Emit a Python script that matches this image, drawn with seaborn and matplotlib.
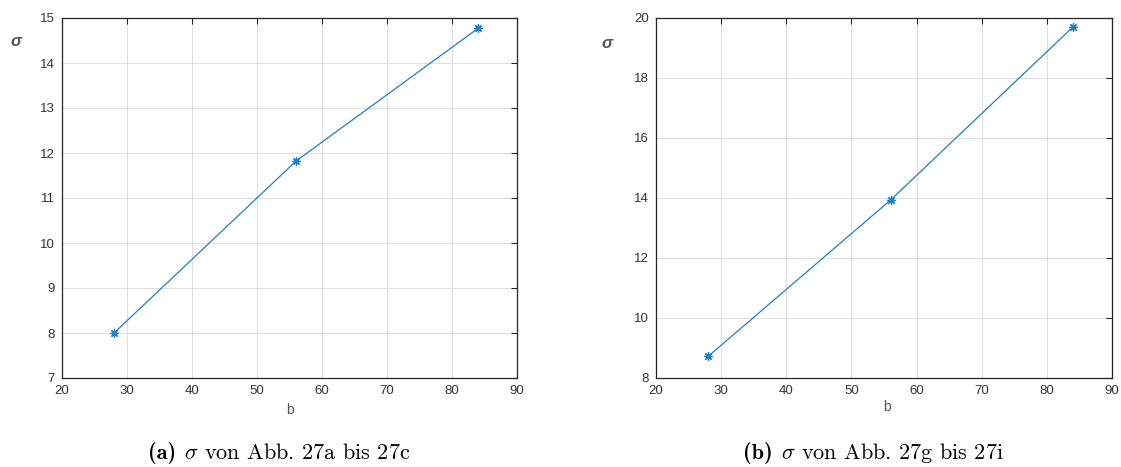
import matplotlib
matplotlib.use("Agg")
import matplotlib.pyplot as plt
import seaborn as sns
import pandas as pd
from matplotlib.offsetbox import TextArea, HPacker, AnnotationBbox

# data
b_vals = [28, 56, 84]
sigma_a = [8.0, 11.82, 14.77]
sigma_b = [8.72, 13.93, 19.70]
xticks = [20, 30, 40, 50, 60, 70, 80, 90]
yticks_a = [7, 8, 9, 10, 11, 12, 13, 14, 15]
yticks_b = [8, 10, 12, 14, 16, 18, 20]
cap_labels = ["(a)", "(b)"]
cap_texts = [r"$\sigma$ von Abb. 27a bis 27c", r"$\sigma$ von Abb. 27g bis 27i"]

sns.set_style("white")
plt.rcParams["font.family"] = ["Liberation Sans", "DejaVu Sans"]
plt.rcParams["mathtext.fontset"] = "cm"

fig = plt.figure(figsize=(11.21, 4.67), dpi=100)
ax1 = fig.add_axes([62/1121, 1-378/467, 455/1121, 360/467])
ax2 = fig.add_axes([656/1121, 1-378/467, 456/1121, 360/467])

line_col = "#1f7fcc"
tick_col = "#262626"
asterisk = (8, 2, 0)

setups = [
    (ax1, sigma_a, yticks_a, (7, 15)),
    (ax2, sigma_b, yticks_b, (8, 20)),
]
for ax, ys, yt, ylim in setups:
    df = pd.DataFrame({"b": b_vals, "sigma": ys})
    sns.lineplot(data=df, x="b", y="sigma", ax=ax, color=line_col, linewidth=0.9,
                 marker=asterisk, markersize=6, markeredgewidth=0.9,
                 markeredgecolor=line_col)
    ax.set_xlim(20, 90)
    ax.set_ylim(*ylim)
    ax.set_xticks(xticks)
    ax.set_yticks(yt)
    ax.grid(True, color="#dedede", linewidth=0.7)
    ax.set_axisbelow(True)
    ax.tick_params(direction="in", length=4, width=0.8, colors=tick_col,
                   labelsize=9.5, top=True, right=True, labelcolor="#333333")
    ax.tick_params(axis="x", pad=5)
    ax.tick_params(axis="y", pad=5)
    for s in ax.spines.values():
        s.set_color(tick_col)
        s.set_linewidth(0.9)
    ax.set_xlabel("")
    ax.set_ylabel("")

# axis labels
fig.text(290/1121, 1-410/467, "b", ha="center", va="center", fontsize=10, color="#555555")
fig.text(887/1121, 1-407/467, "b", ha="center", va="center", fontsize=10, color="#555555")
fig.text(16/1121, 1-41/467, "σ", ha="center", va="center", fontsize=12,
         color="#555555", fontweight="bold", fontstyle="italic")
fig.text(607/1121, 1-44/467, "σ", ha="center", va="center", fontsize=12,
         color="#555555", fontweight="bold", fontstyle="italic")

# captions
cap_fs = 16
for lab, txt, cx in zip(cap_labels, cap_texts, [279, 873]):
    t1 = TextArea(lab, textprops=dict(family="cmb10", fontsize=cap_fs, color="black"))
    t2 = TextArea(txt, textprops=dict(family="cmr10", fontsize=cap_fs, color="black"))
    box = HPacker(children=[t1, t2], align="baseline", pad=0, sep=6)
    ab = AnnotationBbox(box, (cx/1121, 1-453/467), xycoords="figure fraction",
                        frameon=False, box_alignment=(0.5, 0.5), pad=0)
    fig.add_artist(ab)

fig.savefig("out.png", dpi=100)
